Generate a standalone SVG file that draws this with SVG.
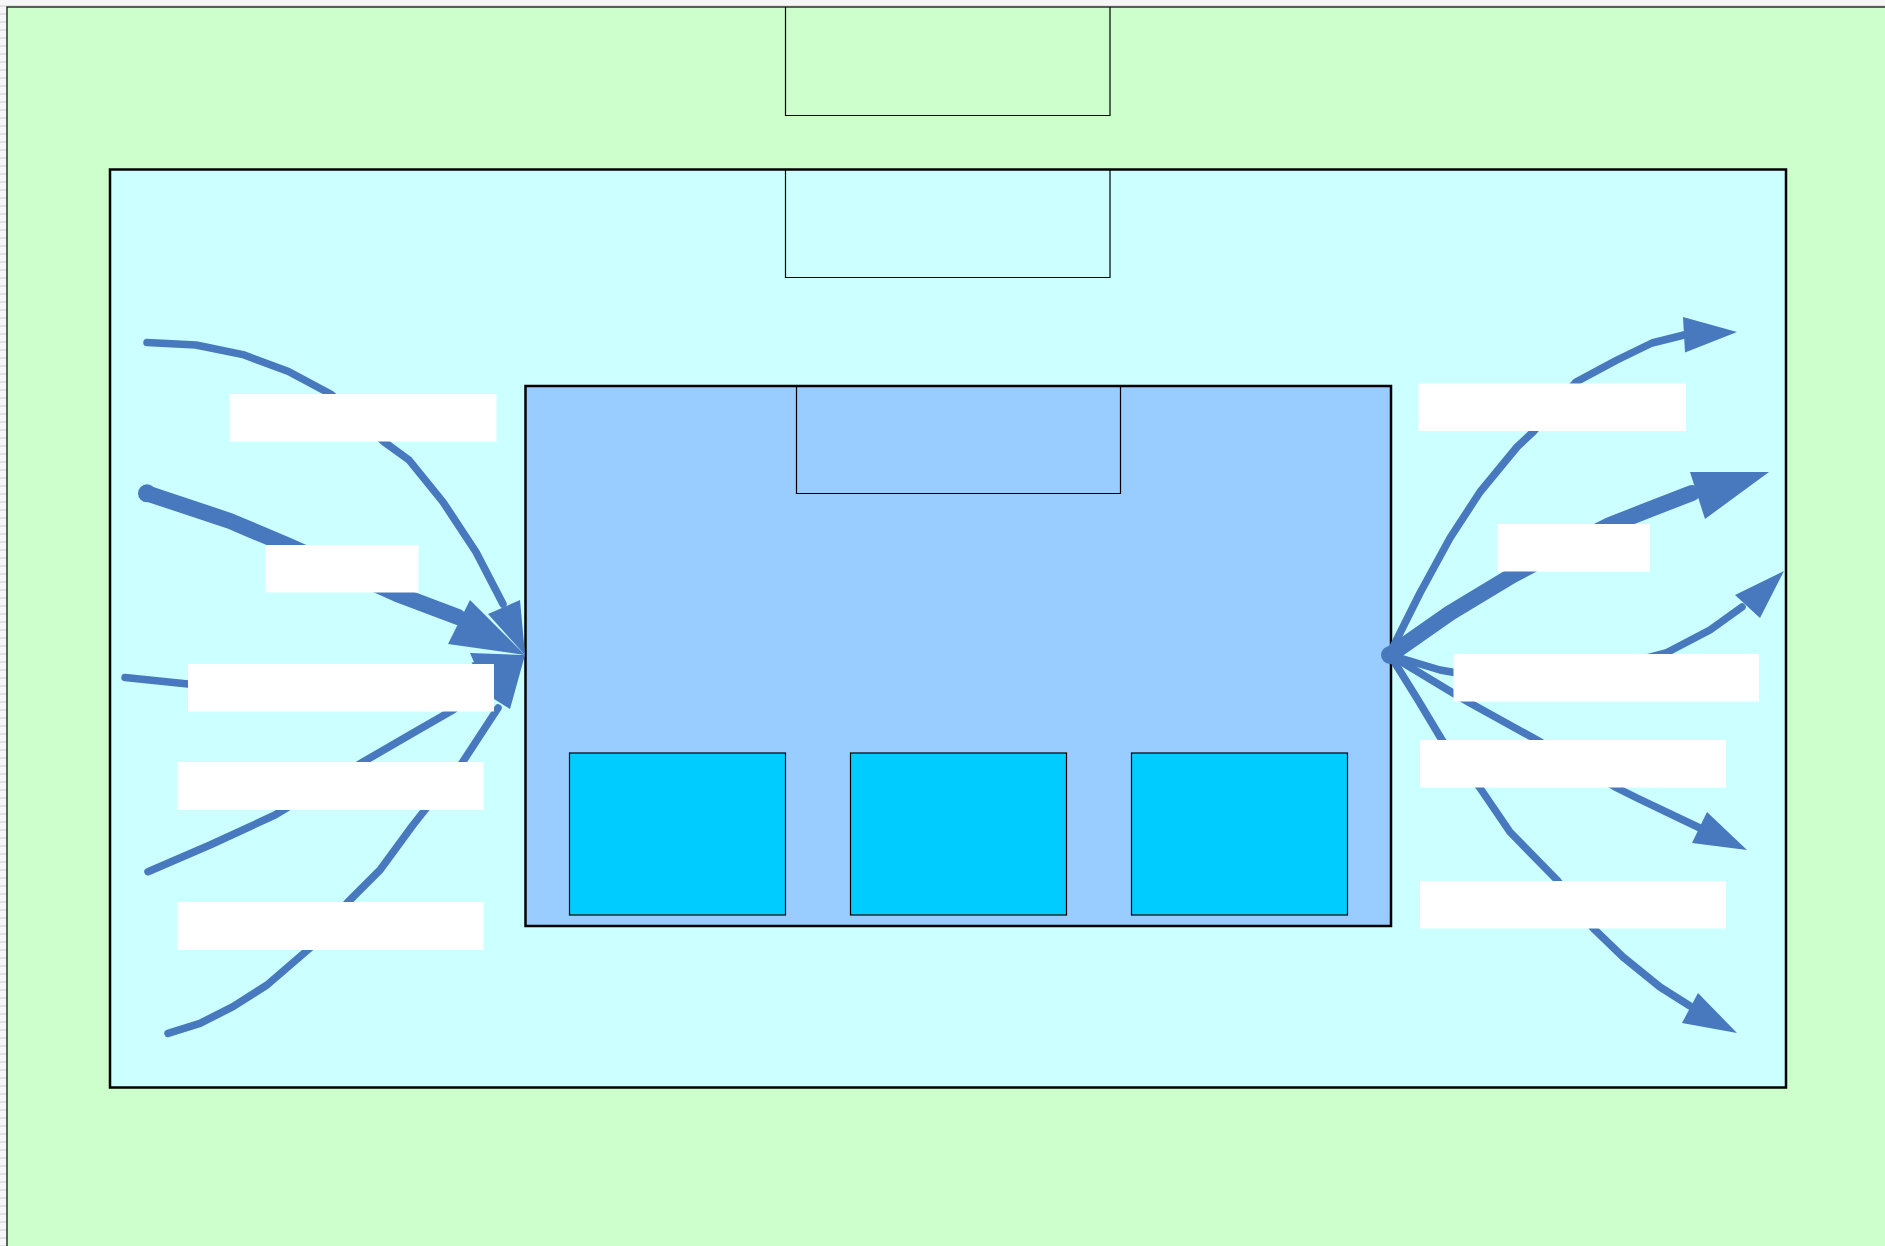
<svg xmlns="http://www.w3.org/2000/svg" width="1885" height="1246" viewBox="0 0 1885 1246">
<defs>
<pattern id="margin" width="8" height="8" patternUnits="userSpaceOnUse">
<rect width="8" height="8" fill="#f7f7f7"/>
<rect y="5" width="8" height="2" fill="#e2e2e2"/>
</pattern>
<style>
.line{fill:none;stroke:#000;stroke-width:1.2}
.frame{stroke:#000;stroke-width:2.5}
.conn{fill:none;stroke:#4878BE;stroke-width:7.5;stroke-linejoin:round;stroke-linecap:round}
.thickconn{fill:none;stroke:#4878BE;stroke-width:16;stroke-linejoin:round;stroke-linecap:round}
.head{fill:#4878BE;stroke:none}
.label{fill:#FFFFFF;stroke:none}
.box{fill:#00CCFF;stroke:#000;stroke-width:1.2}
</style>
</defs>
<rect x="0" y="0" width="1885" height="1246" fill="url(#margin)"/>
<g id="site">
<rect x="7" y="7" width="1890" height="1250" fill="#CCFFCC" stroke="#000" stroke-width="1.2"/>
</g>
<g id="top-box-outer">
<polyline class="line" points="785.5,7 785.5,115.5 1110,115.5 1110,7"/>
</g>
<g id="zone">
<rect x="110" y="169.5" width="1676" height="918" fill="#CCFFFF" class="frame"/>
</g>
<g id="top-box-inner">
<polyline class="line" points="785.5,169.5 785.5,277.5 1110,277.5 1110,169.5"/>
</g>
<g id="main">
<rect x="525.5" y="386" width="865.5" height="540" fill="#99CCFF" class="frame"/>
</g>
<g id="main-top-box">
<polyline class="line" points="796.5,386 796.5,493.5 1120.5,493.5 1120.5,386"/>
</g>
<g id="unit-1"><rect class="box" x="569.5" y="753" width="216" height="162"/></g>
<g id="unit-2"><rect class="box" x="850.5" y="753" width="216" height="162"/></g>
<g id="unit-3"><rect class="box" x="1131.5" y="753" width="216" height="162"/></g>
<g id="connectors">
<polyline class="conn" points="147,342.6 196,345 243,354.6 288.5,371.5 331,394.3 384.7,442.4 409,460 443,502 476,552 503,604"/>
<polygon class="head" points="488,614 520,600 525,655"/>
<polyline class="thickconn" points="147,493.3 230,521 287,545 397,594 458,617"/>
<circle cx="147" cy="493.3" r="9" fill="#4878BE"/>
<polygon class="head" points="448,644 470,600 525,655"/>
<polyline class="conn" points="125,677.5 188,684 300,690 400,690 460,680 482,676"/>
<polygon class="head" points="470,653 525,655 490,699"/>
<polyline class="conn" points="148,871.7 210,845 275,815 363,762 413,733 453,710 483,688"/>
<polygon class="head" points="471.5,662.6 525,655 491.5,697.4"/>
<polyline class="conn" points="168,1033.3 200,1023.3 233,1006.7 267,985 310,948 348,902 380,870 413,825 462,763 498,708"/>
<polygon class="head" points="486,694 510,709 525,655"/>
<circle cx="1390" cy="655" r="9" fill="#4878BE"/>
<polyline class="conn" points="1390,653 1420,593 1450,538 1480,492 1517,447 1533,432 1576,382 1617,360 1652,343 1688,334"/>
<polygon class="head" points="1683,317 1685,352.5 1737,332"/>
<polyline class="thickconn" points="1390,655 1450,613 1513,575 1560,550 1610,525 1643,512 1692,493"/>
<polygon class="head" points="1690,472 1705,519 1769,472"/>
<polyline class="conn" points="1390,655 1440,670 1480,677 1560,674 1620,665 1666,653 1710,630 1742,607"/>
<polygon class="head" points="1735,595 1760,618 1784,571"/>
<polyline class="conn" points="1390,655 1453,693 1470,703 1537,740 1617,788 1637,798 1702,829"/>
<polygon class="head" points="1692,843 1707,812 1747,850"/>
<polyline class="conn" points="1390,655 1418,700 1442,740 1480,788 1510,832 1557,880 1593,928 1623,957 1660,987 1690,1006"/>
<polygon class="head" points="1682,1023 1698,993 1737,1033"/>
</g>
<g id="labels-left">
<g id="label-l1"><rect class="label" x="229.5" y="394" width="267" height="47.5"/></g>
<g id="label-l2"><rect class="label" x="265" y="545" width="153.5" height="47.5"/></g>
<g id="label-l3"><rect class="label" x="188" y="664" width="306" height="47.5"/></g>
<g id="label-l4"><rect class="label" x="177.5" y="762" width="306" height="48"/></g>
<g id="label-l5"><rect class="label" x="177.5" y="902" width="306" height="48"/></g>
</g>
<g id="labels-right">
<g id="label-r1"><rect class="label" x="1418.5" y="383.5" width="267.5" height="47.5"/></g>
<g id="label-r2"><rect class="label" x="1497.5" y="524" width="152.5" height="47.5"/></g>
<g id="label-r3"><rect class="label" x="1453.5" y="654" width="305.5" height="47.5"/></g>
<g id="label-r4"><rect class="label" x="1420" y="740" width="306" height="47.5"/></g>
<g id="label-r5"><rect class="label" x="1420" y="881" width="306" height="47.5"/></g>
</g>
</svg>
